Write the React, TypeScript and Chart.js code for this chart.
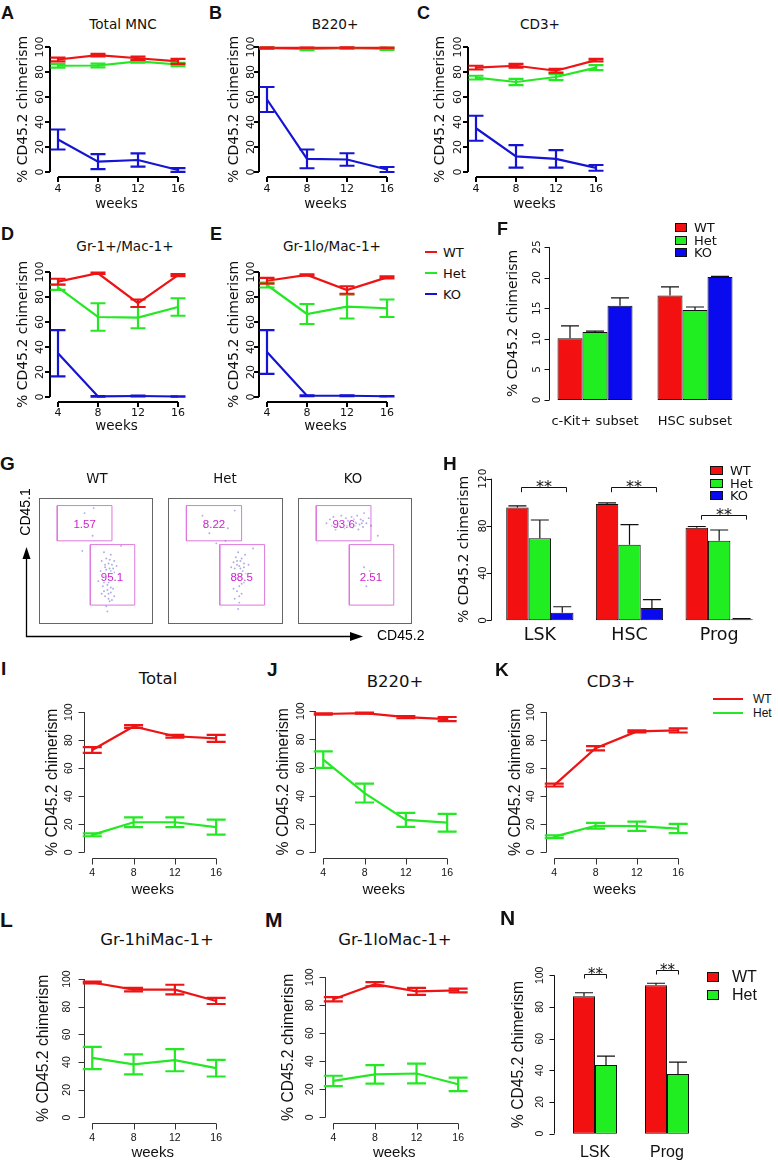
import React, { useEffect, useMemo, useRef } from 'react';
import { Chart, registerables } from 'chart.js';

Chart.register(...registerables);

// ================= DATA =================
const WEEKS = [4, 8, 12, 16];
const PCT_TICKS = [0, 20, 40, 60, 80, 100];
const SERIES_LABELS = ['WT', 'Het', 'KO'];

// A – Total MNC
const A_WT = [90, 93.5, 91, 88.5];
const A_WT_ERR = [1.5, 1, 1.3, 2];
const A_HET = [85, 85.2, 88.5, 86];
const A_HET_ERR = [1.5, 1.5, 1, 1.3];
const A_KO = [26, 8.3, 9.6, 1.6];
const A_KO_ERR = [8, 6, 5.3, 1.5];
// B – B220+
const B_WT = [99.3, 99.3, 99.4, 99.3];
const B_WT_ERR = [0.5, 0.3, 0.3, 0.3];
const B_HET = [99, 98.2, 99, 98.5];
const B_HET_ERR = [0.5, 0.8, 0.4, 0.8];
const B_KO = [58, 10.5, 10, 2];
const B_KO_ERR = [10, 7.5, 5, 2];
// C – CD3+
const C_WT = [83.5, 85, 81, 89.5];
const C_WT_ERR = [1.5, 1.5, 1.5, 1];
const C_HET = [75.5, 72, 76, 83.5];
const C_HET_ERR = [1.5, 2.5, 2.5, 2];
const C_KO = [35, 12.5, 10.5, 3.3];
const C_KO_ERR = [10, 9, 7, 2.3];
// D – Gr-1+/Mac-1+
const D_WT = [92.3, 99, 75, 97.5];
const D_WT_ERR = [2.3, 0.6, 3, 0.8];
const D_HET = [87.7, 64, 63.5, 72];
const D_HET_ERR = [2, 11, 8.5, 7];
const D_KO = [35, 0.5, 0.8, 0.4];
const D_KO_ERR = [18.5, 0.3, 0.3, 0.2];
// E – Gr-1lo/Mac-1+
const E_WT = [93, 97.6, 85.6, 95.7];
const E_WT_ERR = [2.3, 0.5, 3, 0.8];
const E_HET = [89.6, 66.4, 72.3, 71];
const E_HET_ERR = [2, 8, 9.5, 7];
const E_KO = [36, 1, 1, 0.6];
const E_KO_ERR = [17.5, 0.3, 0.3, 0.2];

// F – bars
const F_CATS = ['c-Kit+ subset', 'HSC subset'];
const F_TICKS = [0, 5, 10, 15, 20, 25];
const F_WT = [10.1, 17.1];
const F_WT_ERR = [2, 1.4];
const F_HET = [11.1, 14.7];
const F_HET_ERR = [0.15, 0.5];
const F_KO = [15.4, 20.1];
const F_KO_ERR = [1.3, 0.1];

// G – flow plots (arbitrary fluorescence units 0–100)
const G_SAMPLES = ['WT', 'Het', 'KO'];
const G_UPPER_GATE = [16, 64, 66, 94]; // x0, x1, y0, y1
const G_LOWER_GATE = [45, 84, 15, 63];
const G_UPPER_LABEL_POS = [40, 79];
const G_LOWER_LABEL_POS = [64, 37];
const G_WT_PCT = ['1.57', '95.1'];
const G_HET_PCT = ['8.22', '88.5'];
const G_KO_PCT = ['93.6', '2.51'];
const G_WT_DOTS = [[58,45],[61,48],[63,42],[60,40],[65,44],[57,38],[62,36],[66,50],[59,52],[64,39],[61,33],[56,30],[60,27],[63,25],[58,22],[61,20],[65,28],[55,24],[62,18],[59,14],[67,35],[54,42],[68,46],[63,55],[57,57],[70,40],[52,34],[60,10],[66,22],[58,47],[62,44],[64,47],[55,50],[60,31],[63,29],[57,26],[40,88],[48,92],[38,58],[72,62],[47,70],[59,43],[62,51],[66,41],[61,24],[64,19],[57,33]];
const G_HET_DOTS = [[60,50],[62,46],[64,52],[58,44],[66,48],[61,40],[63,37],[59,35],[65,42],[67,55],[57,49],[62,30],[60,26],[64,24],[58,20],[62,17],[66,33],[56,38],[68,40],[61,57],[59,53],[63,44],[65,36],[57,28],[70,47],[55,45],[61,12],[64,32],[30,86],[44,80],[52,76],[36,72],[58,90],[42,64],[74,60],[50,66],[60,47],[63,50],[66,45],[58,39],[62,22]];
const G_KO_DOTS = [[25,80],[30,78],[35,82],[40,79],[45,81],[50,78],[55,83],[60,80],[33,75],[42,84],[48,76],[52,86],[57,77],[38,86],[28,83],[46,79],[62,84],[35,77],[44,82],[50,81],[54,79],[41,76],[58,88],[31,85],[47,85],[64,78],[53,75],[37,80],[43,78],[49,83],[56,80],[60,30],[63,42],[58,45],[70,70],[51,80],[57,82],[45,77]];

// H – bars
const H_CATS = ['LSK', 'HSC', 'Prog'];
const H_TICKS = [0, 40, 80, 120];
const H_WT = [95.5, 98.5, 78.5];
const H_WT_ERR = [1.5, 1, 1];
const H_HET = [69.5, 64, 67.5];
const H_HET_ERR = [15.5, 17, 9];
const H_KO = [6.5, 10.5, 1];
const H_KO_ERR = [5, 7, 0.5];
const H_SIG_Y = [112.7, 112.7, 89.5];

// I – Total
const I_WT = [73, 89.8, 82.8, 81.3];
const I_WT_ERR = [2, 1, 1, 2.5];
const I_HET = [12.5, 21.5, 21.5, 18];
const I_HET_ERR = [1, 3.5, 3.5, 5.3];
// J – B220+
const J_WT = [98, 98.6, 95.8, 94.4];
const J_WT_ERR = [0.5, 0.4, 0.8, 1.5];
const J_HET = [65.7, 42, 23, 21];
const J_HET_ERR = [5.8, 6.7, 5, 6.3];
// K – CD3+
const K_WT = [48, 74.3, 86.3, 87];
const K_WT_ERR = [1, 1.5, 0.7, 1.5];
const K_HET = [11.2, 19, 18.7, 17];
const K_HET_ERR = [1, 2, 3.3, 3.3];
// L – Gr-1hiMac-1+
const L_WT = [97.5, 92.4, 92.4, 84.2];
const L_WT_ERR = [0.7, 1.3, 3.5, 2.2];
const L_HET = [43, 38.4, 41.4, 35.6];
const L_HET_ERR = [8, 7.2, 8, 6];
// M – Gr-1loMac-1+
const M_WT = [84.2, 95, 89.8, 90.5];
const M_WT_ERR = [1.5, 1.5, 2.5, 1.3];
const M_HET = [26, 30.7, 31.3, 23.6];
const M_HET_ERR = [3.7, 6.6, 7, 4.8];

// N – bars
const N_CATS = ['LSK', 'Prog'];
const N_WT = [86.8, 93.7];
const N_WT_ERR = [2.2, 1.3];
const N_HET = [43.4, 37.7];
const N_HET_ERR = [5.6, 7.5];
const N_SIG_Y = [101, 103.5];

// ================= STYLE =================
const DV = "'DejaVu Sans', sans-serif";
const LS = "'Liberation Sans', Arial, sans-serif";
const RED = 'rgb(236,20,20)';
const GREEN = 'rgb(36,232,36)';
const BLUE = 'rgb(20,20,210)';
const BAR_RED = 'rgb(242,16,16)';
const BAR_GREEN = 'rgb(32,238,32)';
const BAR_BLUE = 'rgb(10,10,238)';
const X_MIN = 3.2;
const X_MAX = 16.5;
const NO_GRID = { display: false, drawTicks: false, drawOnChartArea: false };

let measureCtx: any = null;
function textWidth(text: string, size: number, family: string) {
  if (!measureCtx) measureCtx = document.createElement('canvas').getContext('2d');
  measureCtx.font = `${size}px ${family}`;
  return measureCtx.measureText(text).width;
}

// ================= PLUGINS =================
const rAxesPlugin = {
  id: 'rAxes',
  afterDatasetsDraw(chart: any, _a: any, o: any) {
    if (!o || !o.enabled) return;
    const { ctx, chartArea: ca, scales } = chart;
    const snap = (v: number) => (o.width % 2 === 1 ? Math.round(v) + 0.5 : Math.round(v));
    ctx.save();
    ctx.strokeStyle = o.color;
    ctx.lineWidth = o.width;
    ctx.beginPath();
    if (o.yTicks) {
      const ys = scales.y;
      const x = snap(ca.left + (o.yOffset || 0));
      ctx.moveTo(x, ys.getPixelForValue(o.yTicks[0]));
      ctx.lineTo(x, ys.getPixelForValue(o.yTicks[o.yTicks.length - 1]));
      for (const t of o.yTicks) {
        const y = snap(ys.getPixelForValue(t));
        ctx.moveTo(x, y);
        ctx.lineTo(x - o.tickLen, y);
      }
    }
    if (o.xTicks) {
      const xs = scales.x;
      const y = snap(ca.bottom + (o.xOffset || 0));
      ctx.moveTo(xs.getPixelForValue(o.xTicks[0]), y);
      ctx.lineTo(xs.getPixelForValue(o.xTicks[o.xTicks.length - 1]), y);
      for (const t of o.xTicks) {
        const x = snap(xs.getPixelForValue(t));
        ctx.moveTo(x, y);
        ctx.lineTo(x, y + o.tickLen);
      }
    }
    ctx.stroke();
    ctx.restore();
  },
};

const errorBarsPlugin = {
  id: 'errorBars',
  afterDatasetsDraw(chart: any, _a: any, o: any) {
    if (!o || !o.enabled) return;
    const { ctx } = chart;
    const ys = chart.scales.y;
    for (let i = chart.data.datasets.length - 1; i >= 0; i--) {
      const ds: any = chart.data.datasets[i];
      if (!ds.errors) continue;
      const meta = chart.getDatasetMeta(i);
      ctx.save();
      ctx.strokeStyle = o.color || ds.borderColor;
      ctx.lineWidth = o.width;
      meta.data.forEach((el: any, j: number) => {
        const raw = ds.data[j];
        const v = typeof raw === 'number' ? raw : raw.y;
        const e = ds.errors[j];
        const x = el.x;
        const yH = ys.getPixelForValue(v + e);
        const yL = ys.getPixelForValue(o.upOnly ? v : v - e);
        ctx.beginPath();
        ctx.moveTo(x, yL);
        ctx.lineTo(x, yH);
        ctx.moveTo(x - o.cap, yH);
        ctx.lineTo(x + o.cap, yH);
        if (!o.upOnly) {
          ctx.moveTo(x - o.cap, yL);
          ctx.lineTo(x + o.cap, yL);
        }
        ctx.stroke();
      });
      ctx.restore();
    }
  },
};

const bracketsPlugin = {
  id: 'brackets',
  afterDatasetsDraw(chart: any, _a: any, o: any) {
    if (!o || !o.items) return;
    const { ctx } = chart;
    const ys = chart.scales.y;
    ctx.save();
    ctx.strokeStyle = '#111';
    ctx.fillStyle = '#111';
    ctx.lineWidth = 1;
    ctx.font = o.font;
    ctx.textAlign = 'center';
    ctx.textBaseline = 'alphabetic';
    o.items.forEach((it: any) => {
      const x1 = Math.round(chart.getDatasetMeta(it.from).data[it.cat].x + (o.dx || 0)) + 0.5;
      const x2 = Math.round(chart.getDatasetMeta(it.to).data[it.cat].x + (o.dx || 0)) + 0.5;
      const yb = Math.round(ys.getPixelForValue(it.y)) + 0.5;
      const yl = ys.getPixelForValue(it.leg);
      ctx.beginPath();
      ctx.moveTo(x1, yl);
      ctx.lineTo(x1, yb);
      ctx.lineTo(x2, yb);
      ctx.lineTo(x2, yl);
      ctx.stroke();
      ctx.fillText(it.label, (x1 + x2) / 2, yb + (o.textDy || 0));
    });
    ctx.restore();
  },
};

const gateLabelsPlugin = {
  id: 'gateLabels',
  afterDatasetsDraw(chart: any, _a: any, o: any) {
    if (!o || !o.items) return;
    const { ctx } = chart;
    const xs = chart.scales.x;
    const ys = chart.scales.y;
    ctx.save();
    ctx.font = o.font;
    ctx.textAlign = 'center';
    ctx.textBaseline = 'middle';
    o.items.forEach((it: any) => {
      const px = xs.getPixelForValue(it.x);
      const py = ys.getPixelForValue(it.y);
      ctx.lineWidth = 2.5;
      ctx.strokeStyle = 'rgba(255,255,255,0.75)';
      ctx.strokeText(it.text, px, py);
      ctx.fillStyle = o.color;
      ctx.fillText(it.text, px, py);
    });
    ctx.restore();
  },
};

const plotFramePlugin = {
  id: 'plotFrame',
  afterDraw(chart: any, _a: any, o: any) {
    if (!o || !o.enabled) return;
    const { ctx, chartArea: ca } = chart;
    ctx.save();
    ctx.strokeStyle = o.color;
    ctx.lineWidth = 1;
    ctx.strokeRect(ca.left + 0.5, ca.top + 0.5, ca.right - ca.left - 1, ca.bottom - ca.top - 1);
    ctx.restore();
  },
};

const arrowFramePlugin = {
  id: 'arrowFrame',
  afterDraw(chart: any, _a: any, o: any) {
    if (!o || !o.enabled) return;
    const { ctx, chartArea: ca } = chart;
    const x0 = Math.round(ca.left) + 0.5;
    const y0 = Math.round(ca.bottom) + 0.5;
    ctx.save();
    ctx.strokeStyle = '#000';
    ctx.fillStyle = '#000';
    ctx.lineWidth = 1.3;
    ctx.beginPath();
    ctx.moveTo(x0, ca.top + 8);
    ctx.lineTo(x0, y0);
    ctx.lineTo(ca.right - 8, y0);
    ctx.stroke();
    ctx.beginPath();
    ctx.moveTo(x0, ca.top);
    ctx.lineTo(x0 - 4, ca.top + 12);
    ctx.lineTo(x0 + 4, ca.top + 12);
    ctx.closePath();
    ctx.fill();
    ctx.beginPath();
    ctx.moveTo(ca.right, y0);
    ctx.lineTo(ca.right - 13, y0 - 4.5);
    ctx.lineTo(ca.right - 13, y0 + 4.5);
    ctx.closePath();
    ctx.fill();
    ctx.font = o.font;
    ctx.textBaseline = 'middle';
    ctx.save();
    ctx.translate(x0, ca.top - 35);
    ctx.rotate(-Math.PI / 2);
    ctx.textAlign = 'center';
    ctx.fillText(o.yLabel, 0, 0);
    ctx.restore();
    ctx.textAlign = 'left';
    ctx.fillText(o.xLabel, ca.right + 14, y0);
    ctx.restore();
  },
};

Chart.register(rAxesPlugin as any, errorBarsPlugin as any, bracketsPlugin as any, gateLabelsPlugin as any, plotFramePlugin as any, arrowFramePlugin as any);

// ================= SPEC BUILDERS =================
const STYLE_AE = {
  tick: { family: DV, size: 11 },
  yTitle: { family: DV, size: 14 },
  xTitle: { family: DV, size: 13.5 },
  axisColor: '#000', axisWidth: 2, tickLen: 5, lineWidth: 2.2, cap: 7.5,
};
const STYLE_IN = {
  tick: { family: LS, size: 10.5 },
  yTitle: { family: LS, size: 15.7 },
  xTitle: { family: LS, size: 15 },
  axisColor: '#333', axisWidth: 1, tickLen: 6, lineWidth: 2.2, cap: 9.5,
};

function baseOptions(padTop: number, padRight: number) {
  return {
    responsive: false,
    animation: false,
    devicePixelRatio: 1,
    events: [],
    layout: { padding: { left: 0, top: padTop, right: padRight, bottom: 0 }, autoPadding: false },
  };
}

function makeLineSpec(area: number[], series: any[], st: any, pos: any) {
  const [l, t, r, b] = area;
  const yLH = st.yTitle.size * 1.2;
  const x = Math.round(pos.yTitleX - yLH / 2);
  const wy = l - x;
  const padTop = 8;
  const padRight = 8;
  const y = t - padTop;
  const xLH = st.xTitle.size * 1.2;
  const hx = Math.round(pos.xTitleY + xLH / 2 - b);
  const w = wy + (r - l) + padRight;
  const h = padTop + (b - t) + hx;
  const widest = textWidth('100', st.tick.size, st.tick.family);
  const yPad = l - pos.yTickX - widest / 2;
  const xPad = pos.xTickY - b - (st.tick.size * 1.2) / 2;
  const make = () => ({
    type: 'line',
    data: {
      datasets: series.map((s: any) => ({
        label: s.label,
        data: WEEKS.map((wk, i) => ({ x: wk, y: s.values[i] })),
        errors: s.errors,
        borderColor: s.color,
        backgroundColor: s.color,
        borderWidth: st.lineWidth,
        pointRadius: 0,
        pointHoverRadius: 0,
        tension: 0,
        fill: false,
      })),
    },
    options: {
      ...baseOptions(padTop, padRight),
      plugins: {
        legend: { display: false },
        tooltip: { enabled: false },
        rAxes: { enabled: true, color: st.axisColor, width: st.axisWidth, tickLen: st.tickLen, yTicks: PCT_TICKS, xTicks: WEEKS },
        errorBars: { enabled: true, cap: st.cap, width: st.lineWidth },
      },
      scales: {
        x: {
          type: 'linear', min: X_MIN, max: X_MAX,
          grid: NO_GRID, border: { display: false },
          ticks: { font: st.tick, color: '#111', padding: xPad, minRotation: 0, maxRotation: 0 },
          afterBuildTicks: (ax: any) => { ax.ticks = WEEKS.map((v) => ({ value: v })); },
          afterFit: (ax: any) => { ax.height = hx; },
          title: { display: true, text: 'weeks', font: st.xTitle, color: '#111', padding: 0 },
        },
        y: {
          type: 'linear', min: -4, max: 104,
          grid: NO_GRID, border: { display: false },
          ticks: { font: st.tick, color: '#111', padding: yPad, minRotation: 90, maxRotation: 90, crossAlign: 'center' },
          afterBuildTicks: (ax: any) => { ax.ticks = PCT_TICKS.map((v) => ({ value: v })); },
          afterFit: (ax: any) => { ax.width = wy; },
          title: { display: true, text: '% CD45.2 chimerism', font: st.yTitle, color: '#111', padding: 0 },
        },
      },
    },
  });
  return { x, y, w, h, make };
}

function makeBarSpec(c: any) {
  const [l, t, r, b] = c.area;
  const yLH = c.yTitleFont.size * 1.2;
  const x = Math.round(c.yTitleX - yLH / 2);
  const wy = l - x;
  const padTop = 30;
  const padRight = 6;
  const y = t - padTop;
  const xLH = c.xTickFont.size * 1.2;
  const hx = Math.round(c.xTickY + xLH / 2 + 6 - b);
  const w = wy + (r - l) + padRight;
  const h = padTop + (b - t) + hx;
  const widest = Math.max(...c.yTicks.map((v: number) => textWidth(String(v), c.tickFont.size, c.tickFont.family)));
  const yPad = l - c.yTickX - widest / 2;
  const xPad = c.xTickY - b - xLH / 2;
  const make = () => ({
    type: 'bar',
    data: {
      labels: c.cats,
      datasets: c.series.map((s: any) => ({
        label: s.label,
        data: s.values,
        errors: s.errors,
        backgroundColor: s.color,
        borderColor: '#111',
        borderWidth: 1,
        borderSkipped: false,
        categoryPercentage: c.catPct,
        barPercentage: 1,
      })),
    },
    options: {
      ...baseOptions(padTop, padRight),
      plugins: {
        legend: { display: false },
        tooltip: { enabled: false },
        rAxes: { enabled: true, color: '#111', width: 1, tickLen: 5, yTicks: c.yTicks, yOffset: c.yOffset },
        errorBars: { enabled: true, cap: 9, width: 1.2, upOnly: true, color: '#111' },
        brackets: c.brackets ? { items: c.brackets, font: c.sigFont, dx: c.bracketDx || 0, textDy: c.sigDy } : undefined,
      },
      scales: {
        x: {
          type: 'category',
          grid: NO_GRID, border: { display: false },
          ticks: { font: c.xTickFont, color: '#111', padding: xPad, minRotation: 0, maxRotation: 0, autoSkip: false },
          afterFit: (ax: any) => { ax.height = hx; },
        },
        y: {
          type: 'linear', min: c.yMin, max: c.yMax,
          grid: NO_GRID, border: { display: false },
          ticks: { font: c.tickFont, color: '#111', padding: yPad, minRotation: 90, maxRotation: 90, crossAlign: 'center' },
          afterBuildTicks: (ax: any) => { ax.ticks = c.yTicks.map((v: number) => ({ value: v })); },
          afterFit: (ax: any) => { ax.width = wy; },
          title: { display: true, text: '% CD45.2 chimerism', font: c.yTitleFont, color: '#111', padding: 0 },
        },
      },
    },
  });
  return { x, y, w, h, make };
}

function rectPts(g: number[]) {
  return [
    { x: g[0], y: g[2] }, { x: g[1], y: g[2] }, { x: g[1], y: g[3] }, { x: g[0], y: g[3] }, { x: g[0], y: g[2] },
  ];
}

function makeFlowSpec(x: number, y: number, w: number, h: number, dots: number[][], pct: string[]) {
  const gateColor = 'rgb(222,120,222)';
  const make = () => ({
    type: 'scatter',
    data: {
      datasets: [
        { data: dots.map((d) => ({ x: d[0], y: d[1] })), pointRadius: 0.95, backgroundColor: 'rgba(90,90,205,0.5)', borderWidth: 0, showLine: false },
        { data: rectPts(G_UPPER_GATE), showLine: true, borderColor: gateColor, borderWidth: 1, pointRadius: 0, fill: false },
        { data: rectPts(G_LOWER_GATE), showLine: true, borderColor: gateColor, borderWidth: 1, pointRadius: 0, fill: false },
      ],
    },
    options: {
      ...baseOptions(0, 0),
      clip: false,
      plugins: {
        legend: { display: false },
        tooltip: { enabled: false },
        plotFrame: { enabled: true, color: '#666' },
        gateLabels: {
          font: `11.5px ${LS}`,
          color: 'rgb(205,35,205)',
          items: [
            { text: pct[0], x: G_UPPER_LABEL_POS[0], y: G_UPPER_LABEL_POS[1] },
            { text: pct[1], x: G_LOWER_LABEL_POS[0], y: G_LOWER_LABEL_POS[1] },
          ],
        },
      },
      scales: {
        x: { type: 'linear', min: 0, max: 100, display: false },
        y: { type: 'linear', min: 0, max: 100, display: false },
      },
    },
  });
  return { x, y, w, h, make };
}

function makeArrowFrameSpec() {
  const x = 10, y = 480, w = 435, h = 170;
  const make = () => ({
    type: 'scatter',
    data: { datasets: [] },
    options: {
      responsive: false, animation: false, devicePixelRatio: 1, events: [],
      layout: { padding: { left: 26 - x, top: 547 - y, right: x + w - 363, bottom: y + h - 636 }, autoPadding: false },
      plugins: {
        legend: { display: false }, tooltip: { enabled: false },
        arrowFrame: { enabled: true, font: `14px ${LS}`, xLabel: 'CD45.2', yLabel: 'CD45.1' },
      },
      scales: { x: { type: 'linear', min: 0, max: 1, display: false }, y: { type: 'linear', min: 0, max: 1, display: false } },
    },
  });
  return { x, y, w, h, make };
}

function ser(values: number[], errors: number[], idx: number) {
  const colors = [RED, GREEN, BLUE];
  return { label: SERIES_LABELS[idx], values, errors, color: colors[idx] };
}
function bser(values: number[], errors: number[], idx: number) {
  const colors = [BAR_RED, BAR_GREEN, BAR_BLUE];
  return { label: SERIES_LABELS[idx], values, errors, color: colors[idx] };
}

function buildSpecs() {
  const specs: any[] = [];
  const row1 = { xTickY: 189, xTitleY: 205 };
  const row2 = { xTickY: 413, xTitleY: 427 };
  const row3 = { xTickY: 873, xTitleY: 890 };
  const row4 = { xTickY: 1138, xTitleY: 1153 };
  specs.push(makeLineSpec([50, 42, 183, 177], [ser(A_WT, A_WT_ERR, 0), ser(A_HET, A_HET_ERR, 1), ser(A_KO, A_KO_ERR, 2)], STYLE_AE, { yTitleX: 23, yTickX: 40, ...row1 }));
  specs.push(makeLineSpec([259, 42, 392, 177], [ser(B_WT, B_WT_ERR, 0), ser(B_HET, B_HET_ERR, 1), ser(B_KO, B_KO_ERR, 2)], STYLE_AE, { yTitleX: 234, yTickX: 251, ...row1 }));
  specs.push(makeLineSpec([468, 42, 601, 177], [ser(C_WT, C_WT_ERR, 0), ser(C_HET, C_HET_ERR, 1), ser(C_KO, C_KO_ERR, 2)], STYLE_AE, { yTitleX: 440, yTickX: 458, ...row1 }));
  specs.push(makeLineSpec([50, 267, 183, 402], [ser(D_WT, D_WT_ERR, 0), ser(D_HET, D_HET_ERR, 1), ser(D_KO, D_KO_ERR, 2)], STYLE_AE, { yTitleX: 23, yTickX: 40, ...row2 }));
  specs.push(makeLineSpec([259, 267, 392, 402], [ser(E_WT, E_WT_ERR, 0), ser(E_HET, E_HET_ERR, 1), ser(E_KO, E_KO_ERR, 2)], STYLE_AE, { yTitleX: 234, yTickX: 251, ...row2 }));
  specs.push(makeLineSpec([84, 702, 223, 858], [ser(I_WT, I_WT_ERR, 0), ser(I_HET, I_HET_ERR, 1)], STYLE_IN, { yTitleX: 52, yTickX: 69, ...row3 }));
  specs.push(makeLineSpec([315, 702, 454, 858], [ser(J_WT, J_WT_ERR, 0), ser(J_HET, J_HET_ERR, 1)], STYLE_IN, { yTitleX: 283, yTickX: 301, ...row3 }));
  specs.push(makeLineSpec([546, 702, 685, 858], [ser(K_WT, K_WT_ERR, 0), ser(K_HET, K_HET_ERR, 1)], STYLE_IN, { yTitleX: 515, yTickX: 531, ...row3 }));
  specs.push(makeLineSpec([84, 967, 223, 1123], [ser(L_WT, L_WT_ERR, 0), ser(L_HET, L_HET_ERR, 1)], STYLE_IN, { yTitleX: 43, yTickX: 67, ...row4 }));
  specs.push(makeLineSpec([325, 967, 465, 1123], [ser(M_WT, M_WT_ERR, 0), ser(M_HET, M_HET_ERR, 1)], STYLE_IN, { yTitleX: 288, yTickX: 310, ...row4 }));

  specs.push(makeBarSpec({
    area: [545, 241, 745, 406], cats: F_CATS, yTicks: F_TICKS, yMin: -1, yMax: 26, yOffset: 4, catPct: 0.75,
    series: [bser(F_WT, F_WT_ERR, 0), bser(F_HET, F_HET_ERR, 1), bser(F_KO, F_KO_ERR, 2)],
    tickFont: { family: DV, size: 10.5 }, yTitleFont: { family: DV, size: 14 }, xTickFont: { family: DV, size: 13 },
    yTitleX: 513, yTickX: 537, xTickY: 422,
  }));
  specs.push(makeBarSpec({
    area: [495, 473, 764, 626], cats: H_CATS, yTicks: H_TICKS, yMin: -4.8, yMax: 124.8, yOffset: -4, catPct: 0.75,
    series: [bser(H_WT, H_WT_ERR, 0), bser(H_HET, H_HET_ERR, 1), bser(H_KO, H_KO_ERR, 2)],
    tickFont: { family: DV, size: 10.5 }, yTitleFont: { family: DV, size: 14 }, xTickFont: { family: DV, size: 17.5 },
    yTitleX: 464, yTickX: 483, xTickY: 635,
    brackets: H_CATS.map((_, i) => ({ cat: i, from: 0, to: 2, y: H_SIG_Y[i], leg: H_SIG_Y[i] - 4.2, label: '**' })),
    sigFont: `16px ${DV}`, sigDy: 4, bracketDx: 4,
  }));
  specs.push(makeBarSpec({
    area: [559, 969, 703, 1140], cats: N_CATS, yTicks: PCT_TICKS, yMin: -4, yMax: 104, yOffset: -5, catPct: 0.611,
    series: [bser(N_WT, N_WT_ERR, 0), bser(N_HET, N_HET_ERR, 1)],
    tickFont: { family: LS, size: 10.5 }, yTitleFont: { family: LS, size: 15.7 }, xTickFont: { family: LS, size: 16 },
    yTitleX: 518, yTickX: 540, xTickY: 1153,
    brackets: N_CATS.map((_, i) => ({ cat: i, from: 0, to: 1, y: N_SIG_Y[i], leg: N_SIG_Y[i] - 3, label: '**' })),
    sigFont: `15px ${DV}`, sigDy: 4,
  }));

  specs.push(makeArrowFrameSpec());
  specs.push(makeFlowSpec(39, 498, 114, 126, G_WT_DOTS, G_WT_PCT));
  specs.push(makeFlowSpec(168, 498, 115, 126, G_HET_DOTS, G_HET_PCT));
  specs.push(makeFlowSpec(298, 498, 114, 126, G_KO_DOTS, G_KO_PCT));
  return specs;
}

// ================= TEXT / LEGENDS =================
type TextItem = { t: string; x: number; y: number; s: number; f: string; b?: boolean; a?: 'left' | 'center' };
const TEXTS: TextItem[] = [
  { t: 'A', x: 1, y: 13, s: 18, f: LS, b: true, a: 'left' },
  { t: 'B', x: 209, y: 13, s: 18, f: LS, b: true, a: 'left' },
  { t: 'C', x: 417, y: 13, s: 18, f: LS, b: true, a: 'left' },
  { t: 'D', x: 1, y: 234, s: 18, f: LS, b: true, a: 'left' },
  { t: 'E', x: 210, y: 234, s: 18, f: LS, b: true, a: 'left' },
  { t: 'F', x: 497, y: 229, s: 18, f: LS, b: true, a: 'left' },
  { t: 'G', x: 0, y: 463, s: 19, f: LS, b: true, a: 'left' },
  { t: 'H', x: 443, y: 463, s: 19, f: LS, b: true, a: 'left' },
  { t: 'I', x: 1, y: 668, s: 19, f: LS, b: true, a: 'left' },
  { t: 'J', x: 267, y: 669, s: 19, f: LS, b: true, a: 'left' },
  { t: 'K', x: 495, y: 669, s: 19, f: LS, b: true, a: 'left' },
  { t: 'L', x: 0, y: 919, s: 21, f: LS, b: true, a: 'left' },
  { t: 'M', x: 265, y: 919, s: 21, f: LS, b: true, a: 'left' },
  { t: 'N', x: 500, y: 917, s: 21, f: LS, b: true, a: 'left' },
  { t: 'Total MNC', x: 123, y: 25, s: 13.6, f: DV },
  { t: 'B220+', x: 335, y: 25, s: 13.6, f: DV },
  { t: 'CD3+', x: 540, y: 25, s: 13.6, f: DV },
  { t: 'Gr-1+/Mac-1+', x: 125, y: 247, s: 13.6, f: DV },
  { t: 'Gr-1lo/Mac-1+', x: 332, y: 247, s: 13.6, f: DV },
  { t: G_SAMPLES[0], x: 97, y: 479, s: 13.3, f: DV },
  { t: G_SAMPLES[1], x: 225, y: 479, s: 13.3, f: DV },
  { t: G_SAMPLES[2], x: 353, y: 479, s: 13.3, f: DV },
  { t: 'Total', x: 158, y: 679, s: 16.5, f: DV },
  { t: 'B220+', x: 395, y: 682, s: 16.5, f: DV },
  { t: 'CD3+', x: 611, y: 682, s: 16.5, f: DV },
  { t: 'Gr-1hiMac-1+', x: 157, y: 940, s: 16.5, f: DV },
  { t: 'Gr-1loMac-1+', x: 395, y: 940, s: 16.5, f: DV },
];

type LegendSpec = { x: number; ys: number[]; kind: 'line' | 'box'; sw: number; sh: number; tx: number; size: number; f: string; colors: string[] };
const LEGENDS: LegendSpec[] = [
  { x: 425, ys: [252, 273, 294], kind: 'line', sw: 12, sh: 2.5, tx: 443, size: 13, f: DV, colors: [RED, GREEN, BLUE] },
  { x: 675, ys: [227, 240, 252], kind: 'box', sw: 12, sh: 9, tx: 694, size: 13, f: DV, colors: [BAR_RED, BAR_GREEN, BAR_BLUE] },
  { x: 710, ys: [470, 483, 495], kind: 'box', sw: 13, sh: 9, tx: 730, size: 13, f: DV, colors: [BAR_RED, BAR_GREEN, BAR_BLUE] },
  { x: 713, ys: [699, 713], kind: 'line', sw: 30, sh: 2.5, tx: 753, size: 12, f: LS, colors: [RED, GREEN] },
  { x: 707, ys: [977, 995], kind: 'box', sw: 12, sh: 10, tx: 732, size: 16, f: LS, colors: [BAR_RED, BAR_GREEN] },
];

function ChartCanvas({ spec }: any) {
  const ref = useRef<HTMLCanvasElement | null>(null);
  useEffect(() => {
    const chart = new Chart(ref.current as any, spec.make());
    return () => chart.destroy();
  }, [spec]);
  return (
    <canvas
      ref={ref}
      width={spec.w}
      height={spec.h}
      style={{ position: 'absolute', left: spec.x, top: spec.y, width: spec.w, height: spec.h }}
    />
  );
}

function Txt({ it }: { it: TextItem }) {
  const left = it.a === 'left';
  return (
    <div
      style={{
        position: 'absolute', left: it.x, top: it.y,
        transform: left ? 'translate(0,-50%)' : 'translate(-50%,-50%)',
        fontSize: it.s, fontFamily: it.f, fontWeight: it.b ? 'bold' : 'normal',
        lineHeight: 1, whiteSpace: 'nowrap', color: '#111',
      }}
    >
      {it.t}
    </div>
  );
}

export default function App() {
  useEffect(() => {
    document.body.style.margin = '0';
  }, []);
  const specs = useMemo(() => buildSpecs(), []);
  return (
    <div style={{ position: 'absolute', left: 0, top: 0, width: 778, height: 1160, overflow: 'hidden', background: '#fff' }}>
      {specs.map((s, i) => <ChartCanvas key={i} spec={s} />)}
      {TEXTS.map((it, i) => <Txt key={'t' + i} it={it} />)}
      {LEGENDS.map((lg, li) =>
        lg.ys.map((yy, k) => (
          <React.Fragment key={`lg${li}-${k}`}>
            <div
              style={{
                position: 'absolute', left: lg.x, top: yy - lg.sh / 2, width: lg.sw, height: lg.sh,
                background: lg.colors[k], boxSizing: 'border-box',
                border: lg.kind === 'box' ? '1px solid #111' : 'none',
              }}
            />
            <Txt it={{ t: SERIES_LABELS[k], x: lg.tx, y: yy, s: lg.size, f: lg.f, a: 'left' }} />
          </React.Fragment>
        ))
      )}
    </div>
  );
}
